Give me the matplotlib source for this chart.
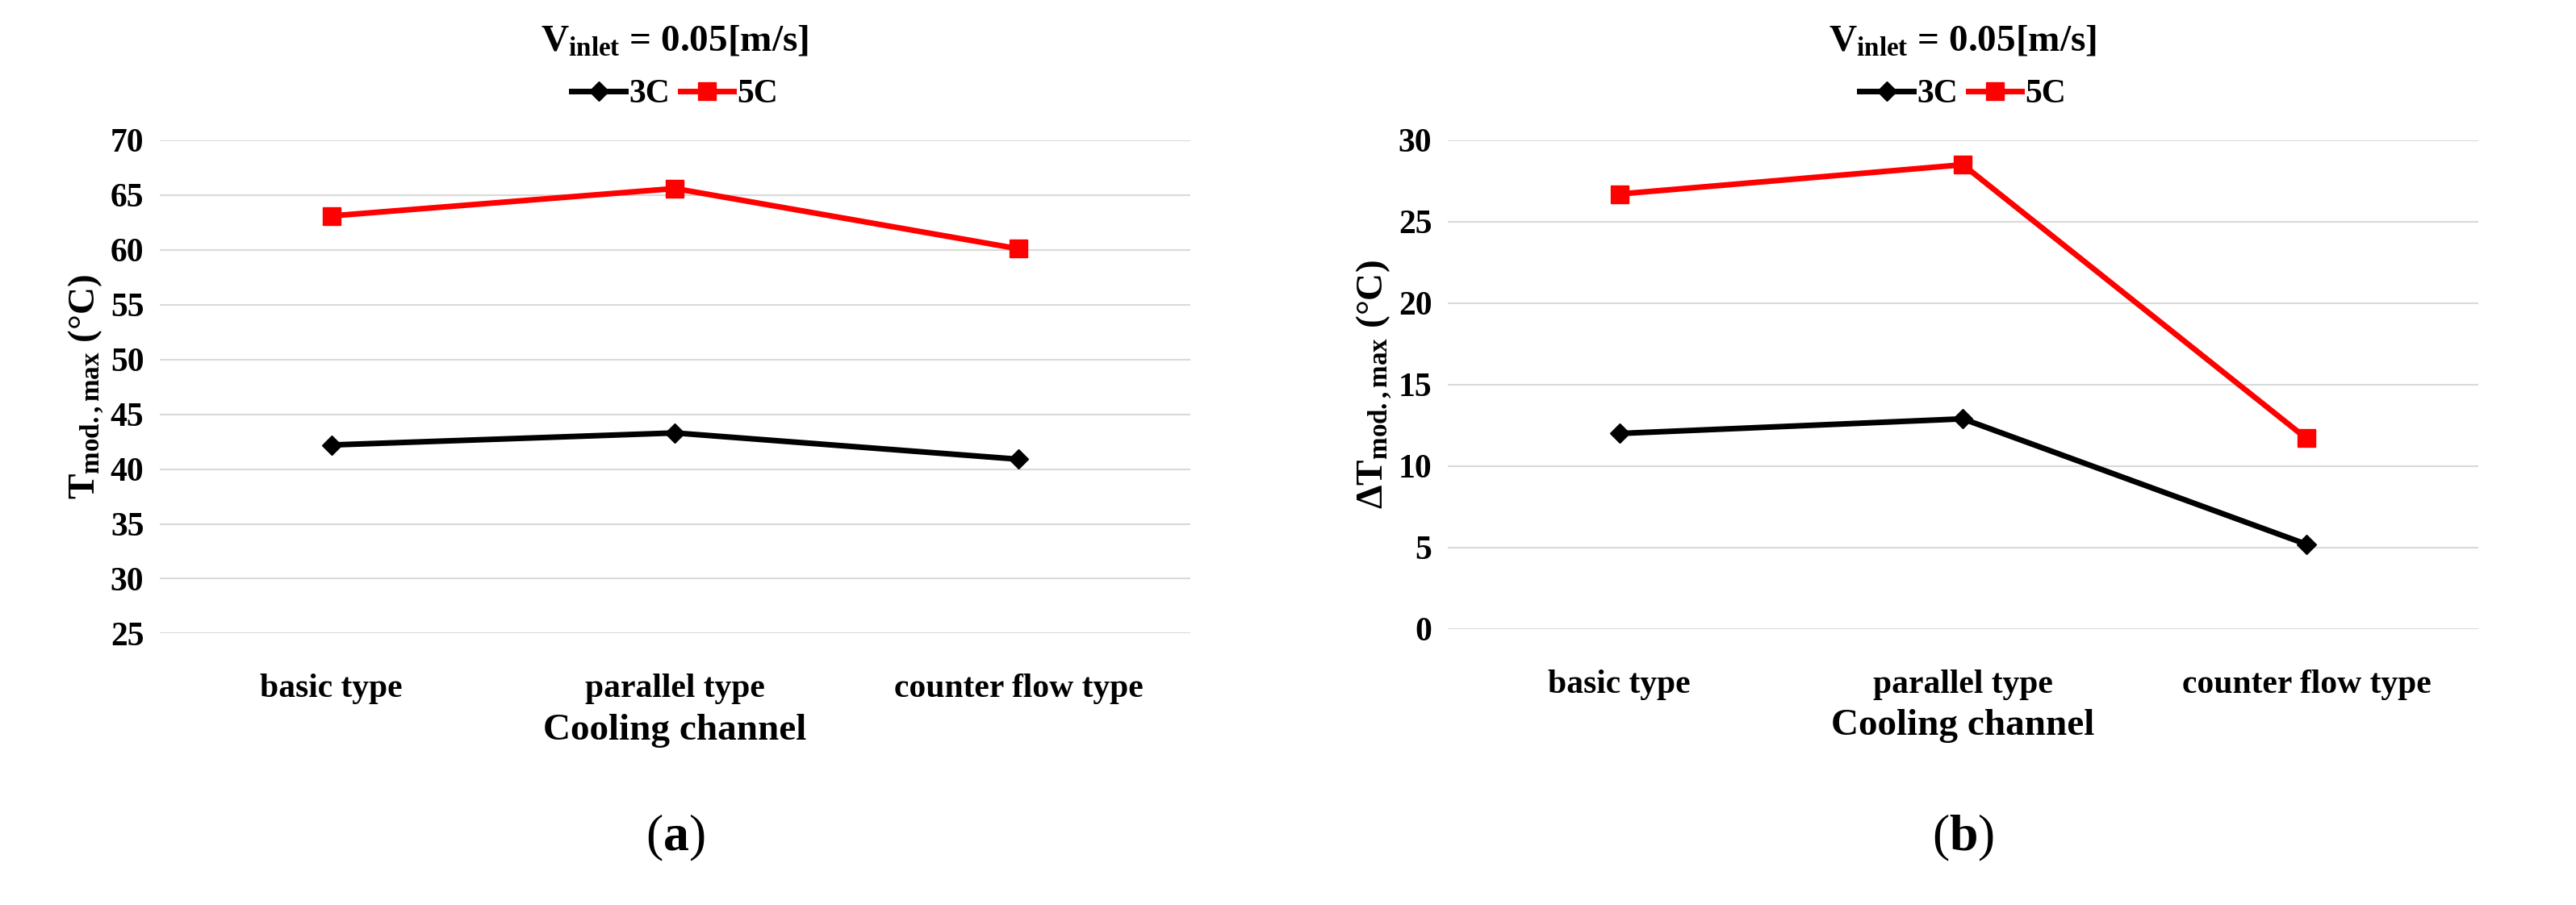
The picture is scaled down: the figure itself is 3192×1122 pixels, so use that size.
import matplotlib
matplotlib.use("Agg")
import matplotlib.pyplot as plt

categories = ["basic type", "parallel type", "counter flow type"]
a_3c = [42.2, 43.3, 40.9]
a_5c = [63.1, 65.6, 60.1]
b_3c = [12.0, 12.9, 5.2]
b_5c = [26.7, 28.5, 11.7]
a_ticks = list(range(25, 71, 5))
b_ticks = list(range(0, 31, 5))

plt.rcParams['font.family'] = ['Liberation Serif', 'DejaVu Serif']
plt.rcParams['font.weight'] = 'bold'
plt.rcParams['mathtext.fontset'] = 'custom'
plt.rcParams['mathtext.rm'] = 'Liberation Serif'
plt.rcParams['mathtext.bf'] = 'Liberation Serif:bold'
plt.rcParams['mathtext.it'] = 'Liberation Serif:italic'

fig = plt.figure(figsize=(31.92, 11.22), dpi=100)

def panel(rect, y3, y5, ticks, ylabel, label):
    ax = fig.add_axes(rect)
    x = range(len(categories))
    ax.plot(x, y3, color='black', lw=5, marker='D', ms=12, label='3C')
    ax.plot(x, y5, color='#ff0000', lw=5, marker='s', ms=16, label='5C')
    ax.set_xlim(-0.5, 2.5)
    ax.set_ylim(ticks[0], ticks[-1])
    ax.set_yticks(ticks)
    ax.set_xticks(list(x))
    ax.set_xticklabels(categories, fontsize=30, fontweight='bold')
    ax.tick_params(axis='y', labelsize=30, length=0, pad=14)
    ax.tick_params(axis='x', length=0, pad=36)
    for t in ax.get_yticklabels():
        t.set_fontweight('bold')
    ax.grid(axis='y', color='#d9d9d9', lw=1.5)
    for s in ax.spines.values():
        s.set_visible(False)
    ax.set_xlabel('Cooling channel', fontsize=34, fontweight='bold', labelpad=8)
    ax.set_ylabel(ylabel, fontsize=34, fontweight='bold')
    ax.set_title(r'V$_{\mathbf{inlet}}$ = 0.05[m/s]', fontsize=34, fontweight='bold', pad=80)
    ax.legend(loc='lower center', bbox_to_anchor=(0.5, 1.0), ncol=2, frameon=False,
              handlelength=1.6, columnspacing=0.3, handletextpad=0.1,
              prop={'weight': 'bold', 'size': 30})
    fig.text(rect[0] + rect[2] / 2, 0.06, label, ha='center', fontsize=46, fontweight='normal')
    return ax

panel([0.062, 0.30, 0.40, 0.545], a_3c, a_5c, a_ticks,
      r'T$_{\mathbf{mod.,max}}$ (°C)', r'($\mathbf{a}$)')
panel([0.562, 0.305, 0.40, 0.54], b_3c, b_5c, b_ticks,
      r'ΔT$_{\mathbf{mod.,max}}$ (°C)', r'($\mathbf{b}$)')

fig.savefig('out.png', dpi=100)
